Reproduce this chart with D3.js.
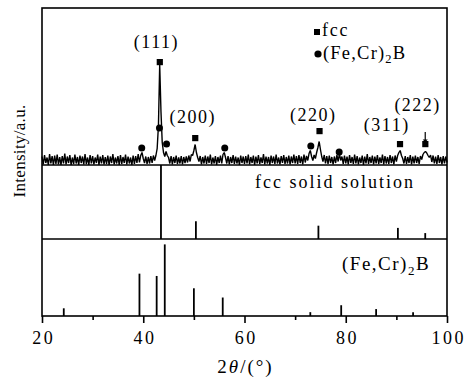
<!DOCTYPE html>
<html>
<head>
<meta charset="utf-8">
<script src="https://cdnjs.cloudflare.com/ajax/libs/d3/7.8.5/d3.min.js"></script>
<style>
  body { margin: 0; background: #fff; }
  svg text { font-family: "Liberation Serif", "Times New Roman", serif; fill: #000; }
</style>
</head>
<body>
<script>
// ----- data -----
// measured XRD pattern, 2theta from 20 to 100 in 0.25 deg steps (counts)
const scanStart = 20, scanStep = 0.25;
const scanCounts = [
  110,30,125,45,100,25,135,40,115,20,120,35,130,30,105,25,115,40,140,30,
  110,45,125,25,100,35,130,40,105,20,120,45,110,30,135,35,100,25,125,40,
  115,30,100,45,130,25,110,40,125,30,105,35,120,20,110,45,135,30,100,40,
  115,25,125,35,105,45,130,30,110,40,100,25,120,35,115,45,135,50,120,150,
  90,45,110,35,105,40,115,45,120,70,120,190,420,1025,560,250,150,110,160,120,
  100,40,115,30,105,45,120,35,100,40,115,30,105,45,110,50,120,60,130,120,
  170,230,150,100,60,115,30,105,40,120,35,110,45,130,30,100,40,115,25,105,
  45,120,40,130,150,100,40,115,30,105,45,125,35,110,40,100,25,120,45,110,
  35,115,40,130,30,105,45,120,25,110,40,125,35,100,45,135,30,110,40,105,
  25,120,45,110,35,130,40,100,30,115,45,125,35,105,40,120,30,110,45,130,
  40,115,35,125,45,110,30,130,50,115,70,140,170,110,70,125,90,150,200,260,
  180,110,60,125,40,115,35,120,45,105,30,110,45,125,60,140,70,110,35,120,
  40,110,30,125,45,105,35,130,40,115,30,100,45,120,25,110,40,135,35,105,
  45,120,30,110,40,125,35,100,45,130,30,115,40,105,35,125,45,110,30,120,
  60,120,150,170,120,90,40,115,35,105,45,125,30,110,40,120,45,105,35,115,
  80,130,150,160,145,120,100,125,55,120,40,110,35,125,45,105,30,115,40,110,
  50
];

// phase markers on the measured pattern
const fccMarkPos = [43.25, 50.25, 74.8, 90.7, 95.7];
const fccMarkLevel = [1055, 295, 365, 235, 235];
const borMarkPos = [39.7, 43.2, 44.6, 56.1, 73.1, 78.7];
const borMarkLevel = [195, 395, 235, 195, 215, 155];

// reflection labels
const hklLabels = ["(111)", "(200)", "(220)", "(311)", "(222)"];
const hklPos = [42.6, 49.8, 73.6, 88.1, 94.2];
const hklBaseline = [48, 123, 121, 131, 111];

// reference patterns (relative intensity)
const fccRefPos = [43.5, 50.4, 74.6, 90.3, 95.7];
const fccRefInt = [100, 24, 18, 15, 8];
const borRefPos = [24.3, 39.25, 42.65, 44.25, 50.0, 55.7, 73.0, 79.1, 86.0, 93.3];
const borRefInt = [10, 55, 52, 93, 36, 24, 5, 14, 9, 5];

const majorTicks = [20, 40, 60, 80, 100];
const minorTicks = [30, 50, 70, 90];

// ----- layout -----
const width = 467, height = 383;
const left = 42, right = 447;
const top1 = 8, div1 = 165, div2 = 239, bottom = 316;

const svg = d3.select("body").append("svg")
    .attr("width", width)
    .attr("height", height);

const x = d3.scaleLinear().domain([20, 100]).range([left, right]);
// background offset of ~25 counts sits on the panel divider
const yScan = d3.scaleLinear().domain([25, 1585]).range([div1, top1 + 1]);
const yFcc = d3.scaleLinear().domain([0, 100]).range([div2, div1]);
const yBor = d3.scaleLinear().domain([0, 100]).range([bottom, div2]);

// measured pattern
const scan = scanCounts.map((c, i) => [scanStart + i * scanStep, c]);
svg.append("path")
    .datum(scan)
    .attr("fill", "none")
    .attr("stroke", "#000")
    .attr("stroke-width", 1.4)
    .attr("stroke-linejoin", "bevel")
    .attr("d", d3.line().x(d => x(d[0])).y(d => Math.min(yScan(d[1]), div1)));

// markers
svg.selectAll(".fccMark")
    .data(fccMarkPos)
    .join("rect")
    .attr("class", "fccMark")
    .attr("x", (d) => x(d) - 3)
    .attr("y", (d, i) => yScan(fccMarkLevel[i]) - 3)
    .attr("width", 6.2)
    .attr("height", 6.2)
    .attr("fill", "#000");

svg.selectAll(".borMark")
    .data(borMarkPos)
    .join("circle")
    .attr("class", "borMark")
    .attr("cx", (d) => x(d))
    .attr("cy", (d, i) => yScan(borMarkLevel[i]))
    .attr("r", 3.5)
    .attr("fill", "#000");

// hkl labels
svg.selectAll(".hkl")
    .data(hklLabels)
    .join("text")
    .attr("class", "hkl")
    .attr("x", (d, i) => x(hklPos[i]))
    .attr("y", (d, i) => hklBaseline[i])
    .attr("text-anchor", "middle")
    .style("font-size", "18px")
    .style("letter-spacing", "1.5px")
    .text(d => d);

// arrow for (222)
const ax = x(95.7);
svg.append("line")
    .attr("x1", ax).attr("x2", ax)
    .attr("y1", yScan(355)).attr("y2", yScan(270))
    .attr("stroke", "#000").attr("stroke-width", 1.2);
svg.append("path")
    .attr("d", "M" + (ax - 2.5) + "," + yScan(280) + "L" + (ax + 2.5) + "," + yScan(280) + "L" + ax + "," + yScan(250) + "Z")
    .attr("fill", "#000");

// legend
svg.append("rect")
    .attr("x", 314).attr("y", 29).attr("width", 6).attr("height", 6)
    .attr("fill", "#000");
svg.append("text")
    .attr("x", 322).attr("y", 36)
    .style("font-size", "18px")
    .style("letter-spacing", "1.8px")
    .text("fcc");
svg.append("circle")
    .attr("cx", 318).attr("cy", 54).attr("r", 3.6)
    .attr("fill", "#000");
const leg2 = svg.append("text")
    .attr("x", 323).attr("y", 59)
    .style("font-size", "18.5px")
    .style("letter-spacing", "1.2px");
leg2.append("tspan").text("(Fe,Cr)");
leg2.append("tspan").attr("dy", 4).style("font-size", "12.5px").text("2");
leg2.append("tspan").attr("dy", -4).text("B");

// reference sticks
svg.selectAll(".fccRef")
    .data(fccRefPos)
    .join("line")
    .attr("class", "fccRef")
    .attr("x1", d => x(d)).attr("x2", d => x(d))
    .attr("y1", yFcc(0))
    .attr("y2", (d, i) => yFcc(fccRefInt[i]))
    .attr("stroke", "#000")
    .attr("stroke-width", 1.8);

svg.selectAll(".borRef")
    .data(borRefPos)
    .join("line")
    .attr("class", "borRef")
    .attr("x1", d => x(d)).attr("x2", d => x(d))
    .attr("y1", yBor(0))
    .attr("y2", (d, i) => yBor(borRefInt[i]))
    .attr("stroke", "#000")
    .attr("stroke-width", 1.8);

svg.append("text")
    .attr("x", 255).attr("y", 188)
    .style("font-size", "18px")
    .style("letter-spacing", "2px")
    .text("fcc solid solution");

const lab3 = svg.append("text")
    .attr("x", 342).attr("y", 270)
    .style("font-size", "19px")
    .style("letter-spacing", "1.5px");
lab3.append("tspan").text("(Fe,Cr)");
lab3.append("tspan").attr("dy", 5).style("font-size", "13px").text("2");
lab3.append("tspan").attr("dy", -5).text("B");

// frame and panel dividers
svg.append("rect")
    .attr("x", left).attr("y", top1)
    .attr("width", right - left).attr("height", bottom - top1)
    .attr("fill", "none").attr("stroke", "#000").attr("stroke-width", 1.6);
[div1, div2].forEach(yy => {
    svg.append("line")
        .attr("x1", left).attr("x2", right)
        .attr("y1", yy).attr("y2", yy)
        .attr("stroke", "#000").attr("stroke-width", 1.6);
});

// x axis
const tickLs = 2.5;
const xAxis = svg.append("g")
    .attr("transform", "translate(0," + bottom + ")")
    .call(d3.axisBottom(x).tickValues(majorTicks).tickSize(7).tickPadding(8).tickFormat(d3.format("d")));
xAxis.select(".domain").remove();
xAxis.selectAll("line").attr("stroke-width", 1.6);
xAxis.selectAll("text")
    .attr("dx", tickLs / 2)
    .style("font-family", "'Liberation Serif', serif")
    .style("font-size", "18px")
    .style("letter-spacing", tickLs + "px");

const xMinor = svg.append("g")
    .attr("transform", "translate(0," + bottom + ")")
    .call(d3.axisBottom(x).tickValues(minorTicks).tickSize(4).tickFormat(""));
xMinor.select(".domain").remove();
xMinor.selectAll("line").attr("stroke-width", 1.6);

// axis titles
const xt = svg.append("text")
    .attr("x", (left + right) / 2 + 1)
    .attr("y", 373)
    .attr("text-anchor", "middle")
    .style("font-size", "19px")
    .style("letter-spacing", "2px");
xt.append("tspan").text("2");
xt.append("tspan").style("font-style", "italic").text("θ");
xt.append("tspan").text("/(°)");

svg.append("text")
    .attr("transform", "translate(25," + 151 + ") rotate(-90)")
    .attr("text-anchor", "middle")
    .style("font-size", "17px")
    .style("letter-spacing", "0.3px")
    .text("Intensity/a.u.");
</script>
</body>
</html>
